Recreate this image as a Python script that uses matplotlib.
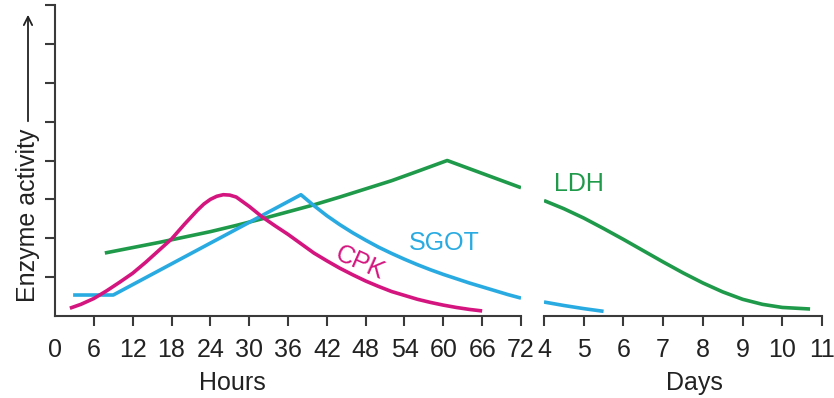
import matplotlib.pyplot as plt
from matplotlib.patches import FancyArrowPatch

plt.rcParams['font.family'] = ['Liberation Sans', 'DejaVu Sans']

# CPK, SGOT, LDH curves (x in hours or days, y in activity units)
cpk_h = [2.3, 4, 6, 8, 10, 12, 14, 16, 18, 20, 22, 23, 24, 25, 26, 27, 28, 30, 32, 34, 36, 38, 40,
         42, 44, 46, 48, 50, 52, 54, 56, 58, 60, 62, 64, 66]
cpk_v = [0.2, 0.3, 0.45, 0.65, 0.87, 1.1, 1.38, 1.68, 1.98, 2.36, 2.72, 2.88, 3.0, 3.08, 3.12, 3.11,
         3.06, 2.82, 2.55, 2.32, 2.1, 1.86, 1.62, 1.42, 1.23, 1.06, 0.9, 0.76, 0.63, 0.53, 0.43, 0.35,
         0.28, 0.22, 0.17, 0.13]

sgot_h = [2.8, 9, 38, 40, 42, 44, 46, 48, 50, 52, 54, 56, 58, 60, 62, 64, 66, 68, 70, 72]
sgot_v = [0.54, 0.54, 3.12, 2.84, 2.58, 2.35, 2.14, 1.95, 1.77, 1.61, 1.46, 1.32, 1.19, 1.07, 0.96,
          0.85, 0.75, 0.65, 0.55, 0.46]
sgot_d = [4, 4.5, 5, 5.5]
sgot_dv = [0.36, 0.27, 0.19, 0.12]

ldh_h = [7.7, 12, 16, 20, 24, 28, 32, 36, 40, 44, 48, 52, 56, 60.6, 72]
ldh_v = [1.62, 1.76, 1.89, 2.03, 2.17, 2.33, 2.5, 2.68, 2.86, 3.06, 3.27, 3.48, 3.72, 4.0, 3.3]
ldh_d = [4, 4.5, 5, 5.5, 6, 6.5, 7, 7.5, 8, 8.5, 9, 9.5, 10, 10.7]
ldh_dv = [2.97, 2.76, 2.52, 2.25, 1.97, 1.68, 1.39, 1.11, 0.85, 0.62, 0.43, 0.3, 0.22, 0.18]

hour_ticks = list(range(0, 73, 6))
day_ticks = list(range(4, 12))

c_cpk = '#d4157f'
c_sgot = '#29abe2'
c_ldh = '#1f9a4b'
c_axis = '#3a3a3a'
c_text = '#222222'

W, H = 834, 398
fig = plt.figure(figsize=(W / 100, H / 100), dpi=100)

bot = (H - 316) / H
top = (H - 5) / H
ax1 = fig.add_axes([55 / W, bot, (521 - 55) / W, top - bot])
ax2 = fig.add_axes([544 / W, bot, (822 - 544) / W, top - bot])

lw = 2.6
ax1.plot(ldh_h, ldh_v, color=c_ldh, lw=lw, solid_capstyle='butt')
ax1.plot(sgot_h, sgot_v, color=c_sgot, lw=lw, solid_capstyle='butt')
ax1.plot(cpk_h, cpk_v, color=c_cpk, lw=lw, solid_capstyle='butt')
ax2.plot(ldh_d, ldh_dv, color=c_ldh, lw=lw, solid_capstyle='butt')
ax2.plot(sgot_d, sgot_dv, color=c_sgot, lw=lw, solid_capstyle='butt')

for ax in (ax1, ax2):
    ax.set_ylim(0, 8)
    ax.spines['top'].set_visible(False)
    ax.spines['right'].set_visible(False)
    ax.spines['bottom'].set_color(c_axis)
    ax.spines['bottom'].set_linewidth(1.5)
    ax.tick_params(axis='x', direction='out', length=7, width=1.5, color=c_axis,
                   labelsize=18, labelcolor=c_text, pad=9)

ax1.set_xlim(0, 72)
ax1.set_xticks(hour_ticks)
ax1.set_xticklabels([str(t) for t in hour_ticks])
ax1.xaxis.get_major_ticks()[0].tick1line.set_visible(False)
ax1.set_yticks(range(1, 9))
ax1.set_yticklabels([])
ax1.spines['left'].set_color(c_axis)
ax1.spines['left'].set_linewidth(1.5)
ax1.tick_params(axis='y', direction='out', length=7, width=1.5, color=c_axis)

ax2.set_xlim(4, 11)
ax2.set_xticks(day_ticks)
ax2.set_xticklabels([str(t) for t in day_ticks])
ax2.spines['left'].set_visible(False)
ax2.set_yticks([])
ax2.patch.set_visible(False)

# curve labels
fig.text(360 / W, (H - 263) / H, 'CPK', color=c_cpk, fontsize=18, rotation=-24,
         ha='center', va='center')
fig.text(444 / W, (H - 243) / H, 'SGOT', color=c_sgot, fontsize=18, ha='center', va='center')
fig.text(579 / W, (H - 184) / H, 'LDH', color=c_ldh, fontsize=18, ha='center', va='center')

# axis titles
fig.text(232 / W, (H - 383) / H, 'Hours', fontsize=18, color=c_text, ha='center', va='center')
fig.text(694 / W, (H - 383) / H, 'Days', fontsize=18, color=c_text, ha='center', va='center')
fig.text(28 / W, (H - 215) / H, 'Enzyme activity', fontsize=18, color=c_text, rotation=90,
         ha='center', va='center')
fig.patches.append(FancyArrowPatch(
    (28 / W, (H - 124) / H), (28 / W, (H - 12) / H), transform=fig.transFigure,
    arrowstyle='->,head_length=6,head_width=3', color=c_text, lw=1.3))

fig.savefig('out.png', dpi=100)
